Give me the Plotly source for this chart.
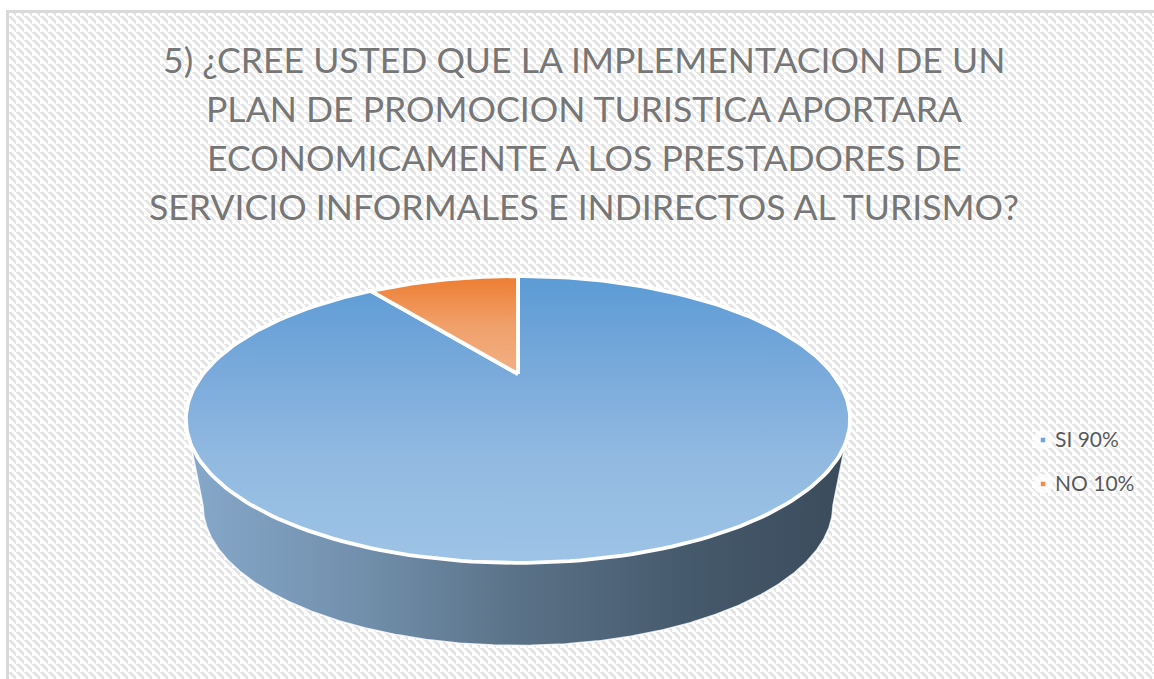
import base64
import numpy as np
import plotly.graph_objects as go

# ---- data ----
categories = ["SI", "NO"]
values = [90, 10]
legend_labels = ["SI 90%", "NO 10%"]
title_lines = [
    "5) ¿CREE USTED QUE LA IMPLEMENTACION DE UN",
    "PLAN DE PROMOCION TURISTICA APORTARA",
    "ECONOMICAMENTE A LOS PRESTADORES DE",
    "SERVICIO INFORMALES E INDIRECTOS AL TURISMO?",
]

W, H = 1154, 679
FONT = "Lato, Carlito, Calibri, sans-serif"

# perspective projection of the unit-circle pie into page pixels
CX, HUB_Y, K, A, SKEW = 518.0, 374.0, 315.0, 0.317, -10.5
BOT_CY, BOT_RX, BOT_RY = 505.5, 315.0, 140.0


def project(theta):
    """theta clockwise from 12 o'clock, radians, on the pie rim."""
    u, v = np.sin(theta), np.cos(theta)
    d = 1 + A * v
    return CX + K * u / d, (SKEW * v + HUB_Y) / d


def wedge(start, end, n=240):
    t = np.linspace(start, end, n)
    x, y = project(t)
    return np.r_[CX, x, CX], np.r_[HUB_Y, y, HUB_Y]


total = sum(values)
fractions = np.array(values) / total
angles = np.r_[0, np.cumsum(fractions)] * 2 * np.pi

fig = go.Figure()

# side wall: lower half of the top rim joined to the lower half of the base rim
tt = np.linspace(0, 2 * np.pi, 1441)
rx, ry = project(tt)
left_i, right_i = int(np.argmin(rx)), int(np.argmax(rx))
rim_x, rim_y = rx[right_i:left_i + 1], ry[right_i:left_i + 1]
p = np.linspace(0, np.pi, 361)
base_x = CX - BOT_RX * np.cos(p)
base_y = BOT_CY + BOT_RY * np.sin(p)
fig.add_trace(go.Scatter(
    x=np.r_[rim_x, base_x, rim_x[0]], y=np.r_[rim_y, base_y, rim_y[0]],
    mode="lines", line=dict(width=1.5, color="rgba(255,255,255,0.8)"),
    fill="toself",
    fillgradient=dict(type="horizontal", colorscale=[
        [0, "#86a8ca"], [0.25, "#7391ae"], [0.5, "#5a7287"], [0.75, "#465a6d"], [1, "#3a4b5b"],
    ]),
    hoverinfo="skip", showlegend=False,
))

# top face slices
slice_scales = {
    "SI": [[0, "#9dc3e6"], [0.36, "#92bae1"], [0.71, "#76a8da"], [1, "#5b9bd5"]],
    "NO": [[0, "#f2b084"], [0.5, "#f0a06a"], [1, "#ed7d31"]],
}
for i, cat in enumerate(categories):
    sx, sy = wedge(angles[i], angles[i + 1])
    fig.add_trace(go.Scatter(
        x=sx, y=sy, mode="lines",
        line=dict(width=3.8, color="#ffffff"),
        fill="toself",
        fillgradient=dict(type="vertical", colorscale=slice_scales[cat]),
        name=cat, hoverinfo="skip", showlegend=False,
    ))

# legend keys with their labels
legend_y = [440, 484]
legend_colors = ["#6ea5da", "#f08c4f"]
fig.add_trace(go.Scatter(
    x=[1043] * 2, y=legend_y, mode="markers",
    marker=dict(symbol="circle", size=20, color="rgba(255,255,255,0.75)"),
    hoverinfo="skip", showlegend=False,
))
fig.add_trace(go.Scatter(
    x=[1043] * 2, y=legend_y, mode="markers",
    marker=dict(symbol="square", size=4.5, color=legend_colors, line=dict(width=0)),
    hoverinfo="skip", showlegend=False,
))
fig.add_trace(go.Scatter(
    x=[1055] * 2, y=[ly + 2 for ly in legend_y], mode="text",
    text=legend_labels, textposition="middle right",
    textfont=dict(family=FONT, size=21, color="#595959",
                  shadow="0 0 5px #fff, 0 0 5px #fff, 0 0 5px #fff"),
    hoverinfo="skip", showlegend=False,
))

# hatched chart-area background
P = 8
hatch = f'''<svg xmlns="http://www.w3.org/2000/svg" width="{W}" height="{H}">
<defs><pattern id="h" width="{P}" height="{P}" patternUnits="userSpaceOnUse">
<rect width="{P}" height="{P}" fill="#fff"/>
<path d="M0 0H4V1H5V2H6V3H7V4H8V8H7V7H6V6H5V5H4V4H3V3H2V2H1V1H0Z" fill="#e4e4e4" shape-rendering="crispEdges"/>
</pattern></defs>
<rect x="6" y="10" width="{W}" height="{H}" fill="url(#h)"/>
<rect x="6" y="10" width="3" height="{H}" fill="#d9d9d9"/>
<rect x="6" y="10" width="{W}" height="3" fill="#d9d9d9"/>
</svg>'''
hatch_uri = "data:image/svg+xml;base64," + base64.b64encode(hatch.encode()).decode()

TITLE_CENTER_Y = [59, 108, 157, 206]
title_annotations = [dict(
    text=line, xref="x", yref="y", x=584, y=yc,
    xanchor="center", yanchor="middle", align="center", showarrow=False,
    font=dict(family=FONT, size=35.6, color="#767676", shadow="0 0 4px #fff"),
) for line, yc in zip(title_lines, TITLE_CENTER_Y)]

fig.update_layout(
    width=W, height=H,
    autosize=False,
    margin=dict(l=0, r=0, t=0, b=0),
    paper_bgcolor="#ffffff",
    plot_bgcolor="rgba(0,0,0,0)",
    xaxis=dict(range=[0, W], visible=False, fixedrange=True),
    yaxis=dict(range=[H, 0], visible=False, fixedrange=True),
    showlegend=False,
    images=[dict(source=hatch_uri, xref="paper", yref="paper", x=0, y=1,
                 sizex=1, sizey=1, xanchor="left", yanchor="top",
                 sizing="stretch", layer="below")],
    annotations=title_annotations,
)

fig.write_html(
    "out.html",
    config=dict(displayModeBar=False),
    post_script="document.body.style.margin='0';document.documentElement.style.overflow='hidden';",
)
